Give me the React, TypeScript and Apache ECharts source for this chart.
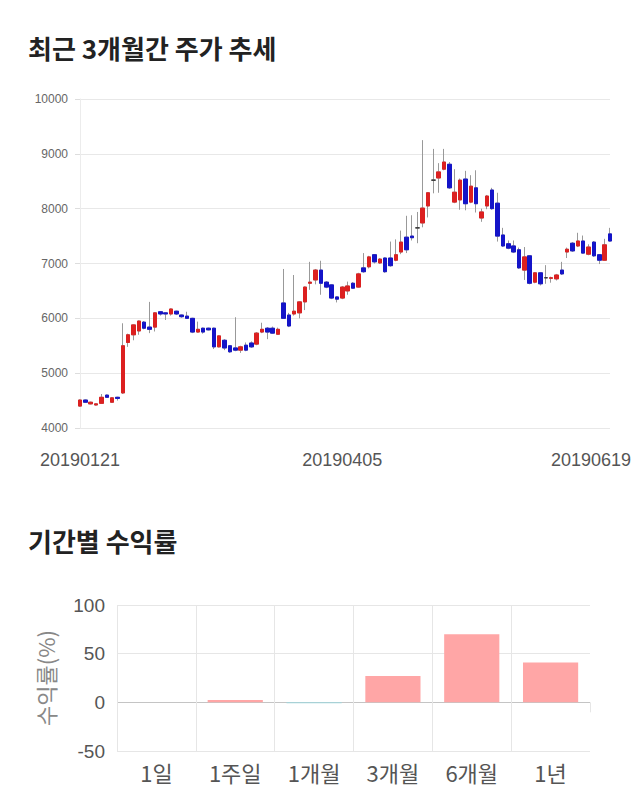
import React, { useEffect, useRef } from 'react';
import * as echarts from 'echarts';

// ---- Candlestick data (daily) ----
const dates = [
  '20190121','20190122','20190123','20190124','20190125','20190128','20190129','20190130','20190131',
  '20190207','20190208','20190211','20190212','20190213','20190214','20190215','20190218','20190219','20190220','20190221','20190222','20190225','20190226','20190227','20190228',
  '20190304','20190305','20190306','20190307','20190308','20190311','20190312','20190313','20190314','20190315','20190318','20190319','20190320','20190321','20190322','20190325','20190326','20190327','20190328','20190329',
  '20190401','20190402','20190403','20190404','20190405','20190408','20190409','20190410','20190411','20190412','20190415','20190416','20190417','20190418','20190419','20190422','20190423','20190424','20190425','20190426','20190429','20190430',
  '20190502','20190503','20190507','20190508','20190509','20190510','20190513','20190514','20190515','20190516','20190517','20190520','20190521','20190522','20190523','20190524','20190527','20190528','20190529','20190530','20190531',
  '20190603','20190604','20190605','20190607','20190610','20190611','20190612','20190613','20190614','20190617','20190618','20190619'
];
const opens = [
  4400,4510,4440,4420,4450,4600,4470,4560,4640,5560,5700,5770,5930,5840,5840,6120,6100,6080,6130,6060,
  6040,6000,5750,5820,5820,5820,5480,5600,5500,5460,5420,5510,5550,5530,5750,5820,5820,5710,6280,6060,
  6080,6100,6300,6640,6700,6880,6660,6610,6390,6370,6500,6640,6570,6920,6940,7160,7010,7100,7100,7060,
  7210,7480,7500,7650,7740,8050,8520,8560,8720,8810,8120,8160,8540,8120,8380,7830,8050,8340,8100,7520,
  7360,7320,7250,6880,7140,6660,6830,6740,6730,6720,6880,7210,7370,7320,7410,7170,7390,7160,7060,7540
];
const closes = [
  4510,4470,4470,4440,4560,4560,4550,4540,5500,5700,5880,5950,5820,5800,6100,6080,6080,6170,6080,6030,
  6000,5750,5800,5750,5790,5480,5680,5460,5390,5420,5480,5420,5480,5730,5800,5750,5730,5800,6000,5860,
  6130,6300,6570,6660,6880,6640,6570,6370,6350,6570,6590,6550,6810,6850,7120,7030,7080,6850,6960,7160,
  7390,7250,7470,7650,8010,8290,8520,8670,8850,8380,8300,8520,8090,8410,8090,7940,8230,8000,7500,7320,
  7280,7210,6920,7120,6640,6830,6630,6740,6740,6790,6810,7260,7230,7410,7190,7300,7140,7060,7340,7410
];
const lows = [
  4390,4460,4430,4410,4440,4550,4460,4500,4620,5480,5600,5700,5800,5730,5760,6050,5970,6050,6060,6010,
  5990,5730,5740,5720,5780,5440,5470,5420,5370,5400,5370,5400,5460,5510,5730,5620,5720,5700,5990,5840,
  6050,6000,6150,6520,6620,6430,6550,6350,6290,6350,6430,6540,6560,6830,6910,7000,6990,6830,6940,7040,
  7170,7190,7420,7370,7660,7840,8280,8290,8700,8360,8100,7980,7970,8100,7930,7760,7990,7980,7400,7300,
  7260,7190,6900,6700,6620,6640,6600,6630,6650,6690,6790,7100,7210,7300,7180,7150,7120,6990,7050,7400
];
const highs = [
  4520,4520,4480,4450,4620,4610,4560,4570,5910,5720,5890,5960,5950,6300,6110,6130,6110,6180,6140,6070,
  6120,6010,5940,5830,5830,5830,5690,5620,5510,6020,5500,5560,5580,5750,5920,5840,5850,5830,6900,6100,
  6790,6310,6580,7030,6900,7050,6680,6620,6400,6590,6670,6660,6830,7190,7140,7170,7100,7110,7400,7440,
  7600,7870,7880,7940,9250,8300,9090,8830,9090,8850,8720,8550,8690,8610,8700,8000,8250,8380,8290,7650,
  7420,7420,7290,7300,7150,6840,6840,6970,6760,6810,7030,7290,7390,7560,7510,7350,7410,7170,7450,7650
];
const dateLabelIdx = [0, 49, 99];

// ---- Period returns ----
const periods = ['1일', '1주일', '1개월', '3개월', '6개월', '1년'];
const returns = [0, 2.5, -1, 27, 70, 41];

const FONT = "'Liberation Sans', Arial, 'Noto Sans CJK KR', sans-serif";
const KFONT = "'Noto Sans CJK KR', 'Liberation Sans', sans-serif";

export default function App() {
  const ref = useRef<HTMLDivElement>(null);
  useEffect(() => {
    if (!ref.current) return;
    const chart = echarts.init(ref.current, undefined, { renderer: 'svg' });
    const wick = opens.map((o, i) => [o, closes[i], lows[i], highs[i]]);
    const body = opens.map((o, i) => [o, closes[i], Math.min(o, closes[i]), Math.max(o, closes[i])]);
    const option: any = {
      animation: false,
      textStyle: { fontFamily: FONT },
      title: [
        {
          text: '최근 3개월간 주가 추세', left: 28, top: 34, padding: 0,
          textStyle: { fontSize: 26, fontWeight: 'bold', color: '#222', fontFamily: KFONT },
        },
        {
          text: '기간별 수익률', left: 28, top: 527, padding: 0,
          textStyle: { fontSize: 26, fontWeight: 'bold', color: '#222', fontFamily: KFONT },
        },
      ],
      grid: [
        { left: 80, top: 99, width: 530, height: 329 },
        { left: 117, top: 605, width: 473, height: 146 },
      ],
      xAxis: [
        {
          type: 'category', gridIndex: 0, data: dates, boundaryGap: false,
          axisLine: { show: false }, axisTick: { show: false }, splitLine: { show: false },
          axisLabel: {
            interval: (i: number) => dateLabelIdx.includes(i),
            fontSize: 18, color: '#555', margin: 23, fontFamily: FONT,
            formatter: (v: string, i: number) => (i === dates.length - 1 ? `{r|${v}}` : v),
            rich: { r: { padding: [0, 38, 0, 0], fontSize: 18, color: '#555', fontFamily: FONT } },
          },
        },
        {
          type: 'category', gridIndex: 1, data: periods,
          axisLine: { show: false },
          axisTick: { show: true, length: 10, lineStyle: { color: '#e6e6e6' } },
          splitLine: { show: true, showMaxLine: false, lineStyle: { color: '#e6e6e6' } },
          axisLabel: { fontSize: 22, color: '#555', margin: 10, fontFamily: KFONT },
        },
      ],
      yAxis: [
        {
          type: 'value', gridIndex: 0, min: 4000, max: 10000, interval: 1000,
          axisLine: { show: true, lineStyle: { color: '#ececec' } },
          axisTick: { show: true, length: 5, lineStyle: { color: '#dddddd' } },
          splitLine: { show: true, lineStyle: { color: '#e8e8e8' } },
          axisLabel: { fontSize: 12, color: '#666', margin: 12, formatter: (v: number) => String(v) },
        },
        {
          type: 'value', gridIndex: 1, min: -50, max: 100, interval: 50,
          name: '수익률(%)', nameLocation: 'middle', nameGap: 61,
          nameTextStyle: { fontSize: 22, color: '#888', fontFamily: KFONT },
          axisLine: { show: false }, axisTick: { show: false },
          splitLine: { show: true, lineStyle: { color: ['#e6e6e6', '#c4c4c4', '#e6e6e6', '#e6e6e6'] } },
          axisLabel: { fontSize: 19, color: '#555', margin: 12, formatter: (v: number) => String(v) },
        },
      ],
      series: [
        {
          type: 'candlestick', xAxisIndex: 0, yAxisIndex: 0, data: wick, barWidth: 4,
          itemStyle: {
            color: '#999', color0: '#999', borderColor: '#999', borderColor0: '#999', borderColorDoji: '#999', borderWidth: 1,
          },
        },
        {
          type: 'candlestick', xAxisIndex: 0, yAxisIndex: 0, data: body, barWidth: 4,
          itemStyle: {
            color: '#dc2020', color0: '#1414c8', borderColor: '#dc2020', borderColor0: '#1414c8', borderColorDoji: '#333', borderWidth: 1,
          },
        },
        {
          type: 'bar', xAxisIndex: 1, yAxisIndex: 1, data: returns, barWidth: '70%',
          itemStyle: {
            color: (p: any) => (p.value >= 0 ? '#ffa6a6' : '#9fd6dc'),
            borderWidth: 0,
          },
        },
      ],
    };
    chart.setOption(option);
    return () => chart.dispose();
  }, []);
  return <div ref={ref} style={{ position: 'absolute', left: 0, top: 0, width: 640, height: 810 }} />;
}
